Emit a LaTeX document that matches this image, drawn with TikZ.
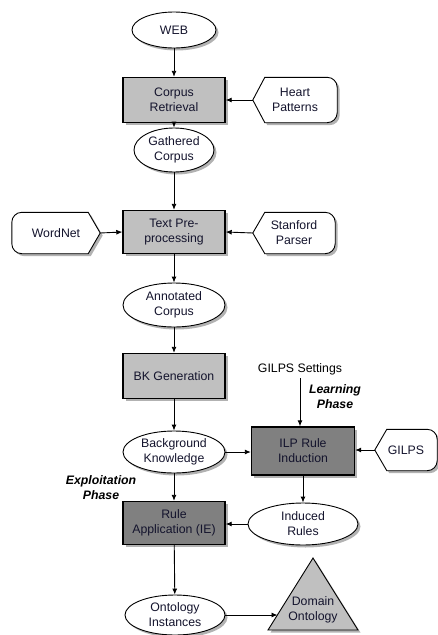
\documentclass[tikz,border=0pt]{standalone}
\usepackage{fontspec}
\setmainfont{Liberation Sans}
\usetikzlibrary{shapes.geometric,arrows.meta,shadows,calc}
\pgfdeclarelayer{background}
\pgfsetlayers{background,main}
\definecolor{lightbox}{RGB}{192,192,192}
\definecolor{darkbox}{RGB}{128,128,128}
\definecolor{txt}{RGB}{20,20,45}
\begin{document}
\begin{tikzpicture}[x=1pt,y=-1pt,
  font=\fontsize{12.3}{15}\selectfont,
  shd/.style={drop shadow={shadow xshift=2.5pt,shadow yshift=-2.5pt,opacity=0.3,fill=black}},
  proc/.style={rectangle,draw=black,line width=1.4pt,fill=lightbox,minimum width=102pt,minimum height=44pt,align=center,text=txt,shd,inner sep=1pt},
  dproc/.style={proc,fill=darkbox},
  data/.style={ellipse,draw=black,line width=0.9pt,fill=white,align=center,text=txt,shd,inner sep=0pt},
  disp/.style={rectangle,align=center,text=txt,inner sep=0pt},
  displine/.style={draw=black,line width=0.9pt,fill=white,shd},
  arr/.style={-{Latex[length=6pt,width=5pt]},line width=0.9pt},
  lbl/.style={font=\fontsize{12.3}{15}\selectfont\bfseries\itshape,align=center}
]
\useasboundingbox (0,0) rectangle (438,635);

% nodes
\node[data,minimum width=84pt,minimum height=36pt] (web) at (174,30) {WEB};
\node[proc,minimum height=45pt] (cr) at (174,100) {Corpus\\Retrieval};
\node[disp,minimum width=84pt,minimum height=45pt] (hp) at (295,100) {Heart\\Patterns};
\node[data,minimum width=80pt,minimum height=44pt] (gc) at (174,150) {Gathered\\Corpus};
\node[proc,minimum height=43pt] (tp) at (174,232) {Text Pre-\\processing};
\node[disp,minimum width=88pt,minimum height=41pt] (wn) at (56,233) {WordNet};
\node[disp,minimum width=82pt,minimum height=41pt] (sp) at (294,233) {Stanford\\Parser};
\node[data,minimum width=102pt,minimum height=44pt] (ac) at (174,305) {Annotated\\Corpus};
\node[proc,minimum height=45pt] (bk) at (174,376) {BK Generation};
\node[text=black] (gs) at (300,369) {GILPS Settings};
\node[lbl] (lp) at (335,397) {Learning\\Phase};
\node[data,minimum width=102pt,minimum height=42pt] (bgk) at (174,452) {Background\\Knowledge};
\node[dproc,minimum width=103pt,minimum height=48pt] (ilp) at (303,451) {ILP Rule\\Induction};
\node[disp,minimum width=62pt,minimum height=41pt] (gilps) at (406,450) {GILPS};
\node[lbl] (ep) at (101,488) {Exploitation\\Phase};
\node[dproc,minimum height=43pt] (ra) at (174,523) {Rule\\Application (IE)};
\node[data,minimum width=110pt,minimum height=42pt] (ir) at (303,524) {Induced\\Rules};
\node[data,minimum width=100pt,minimum height=40pt] (oi) at (175,615) {Ontology\\Instances};
\node[text=txt,align=center] (dom) at (313,610) {Domain\\Ontology};
\coordinate (doL) at (277.5,615);

% display shape outlines and triangle
\begin{pgfonlayer}{background}
\draw[displine] (hp.west) -- ([xshift=12pt]hp.north west) [rounded corners=10pt] -- (hp.north east) -- (hp.south east) [sharp corners] -- ([xshift=12pt]hp.south west) -- cycle;
\draw[displine] (sp.west) -- ([xshift=12pt]sp.north west) [rounded corners=10pt] -- (sp.north east) -- (sp.south east) [sharp corners] -- ([xshift=12pt]sp.south west) -- cycle;
\draw[displine] (gilps.west) -- ([xshift=12pt]gilps.north west) [rounded corners=10pt] -- (gilps.north east) -- (gilps.south east) [sharp corners] -- ([xshift=12pt]gilps.south west) -- cycle;
\draw[displine] (wn.east) -- ([xshift=-12pt]wn.north east) [rounded corners=10pt] -- (wn.north west) -- (wn.south west) [sharp corners] -- ([xshift=-12pt]wn.south east) -- cycle;
\draw[line width=0.9pt,fill=lightbox,shd] (313,558) -- (358,630) -- (268,630) -- cycle;
\end{pgfonlayer}

% connectors
\draw[arr] (web) -- (cr);
\draw[arr] (hp.west) -- (cr.east);
\draw[arr] (cr) -- (gc);
\draw[arr] (gc) -- (tp);
\draw[arr] (wn.east) -- (tp.west);
\draw[arr] (sp.west) -- (tp.east);
\draw[arr] (tp) -- (ac);
\draw[arr] (ac) -- (bk);
\draw[arr] (bk) -- (bgk);
\draw[arr] (gs.south) -- (gs.south |- ilp.north);
\draw[arr] (bgk.east) -- (bgk.east -| ilp.west);
\draw[arr] (gilps.west) -- (gilps.west -| ilp.east);
\draw[arr] (ilp) -- (ir);
\draw[arr] (bgk) -- (ra);
\draw[arr] (ir.west) -- (ir.west -| ra.east);
\draw[arr] (ra) -- (oi);
\draw[arr] (oi.east) -- (doL);
\end{tikzpicture}
\end{document}
